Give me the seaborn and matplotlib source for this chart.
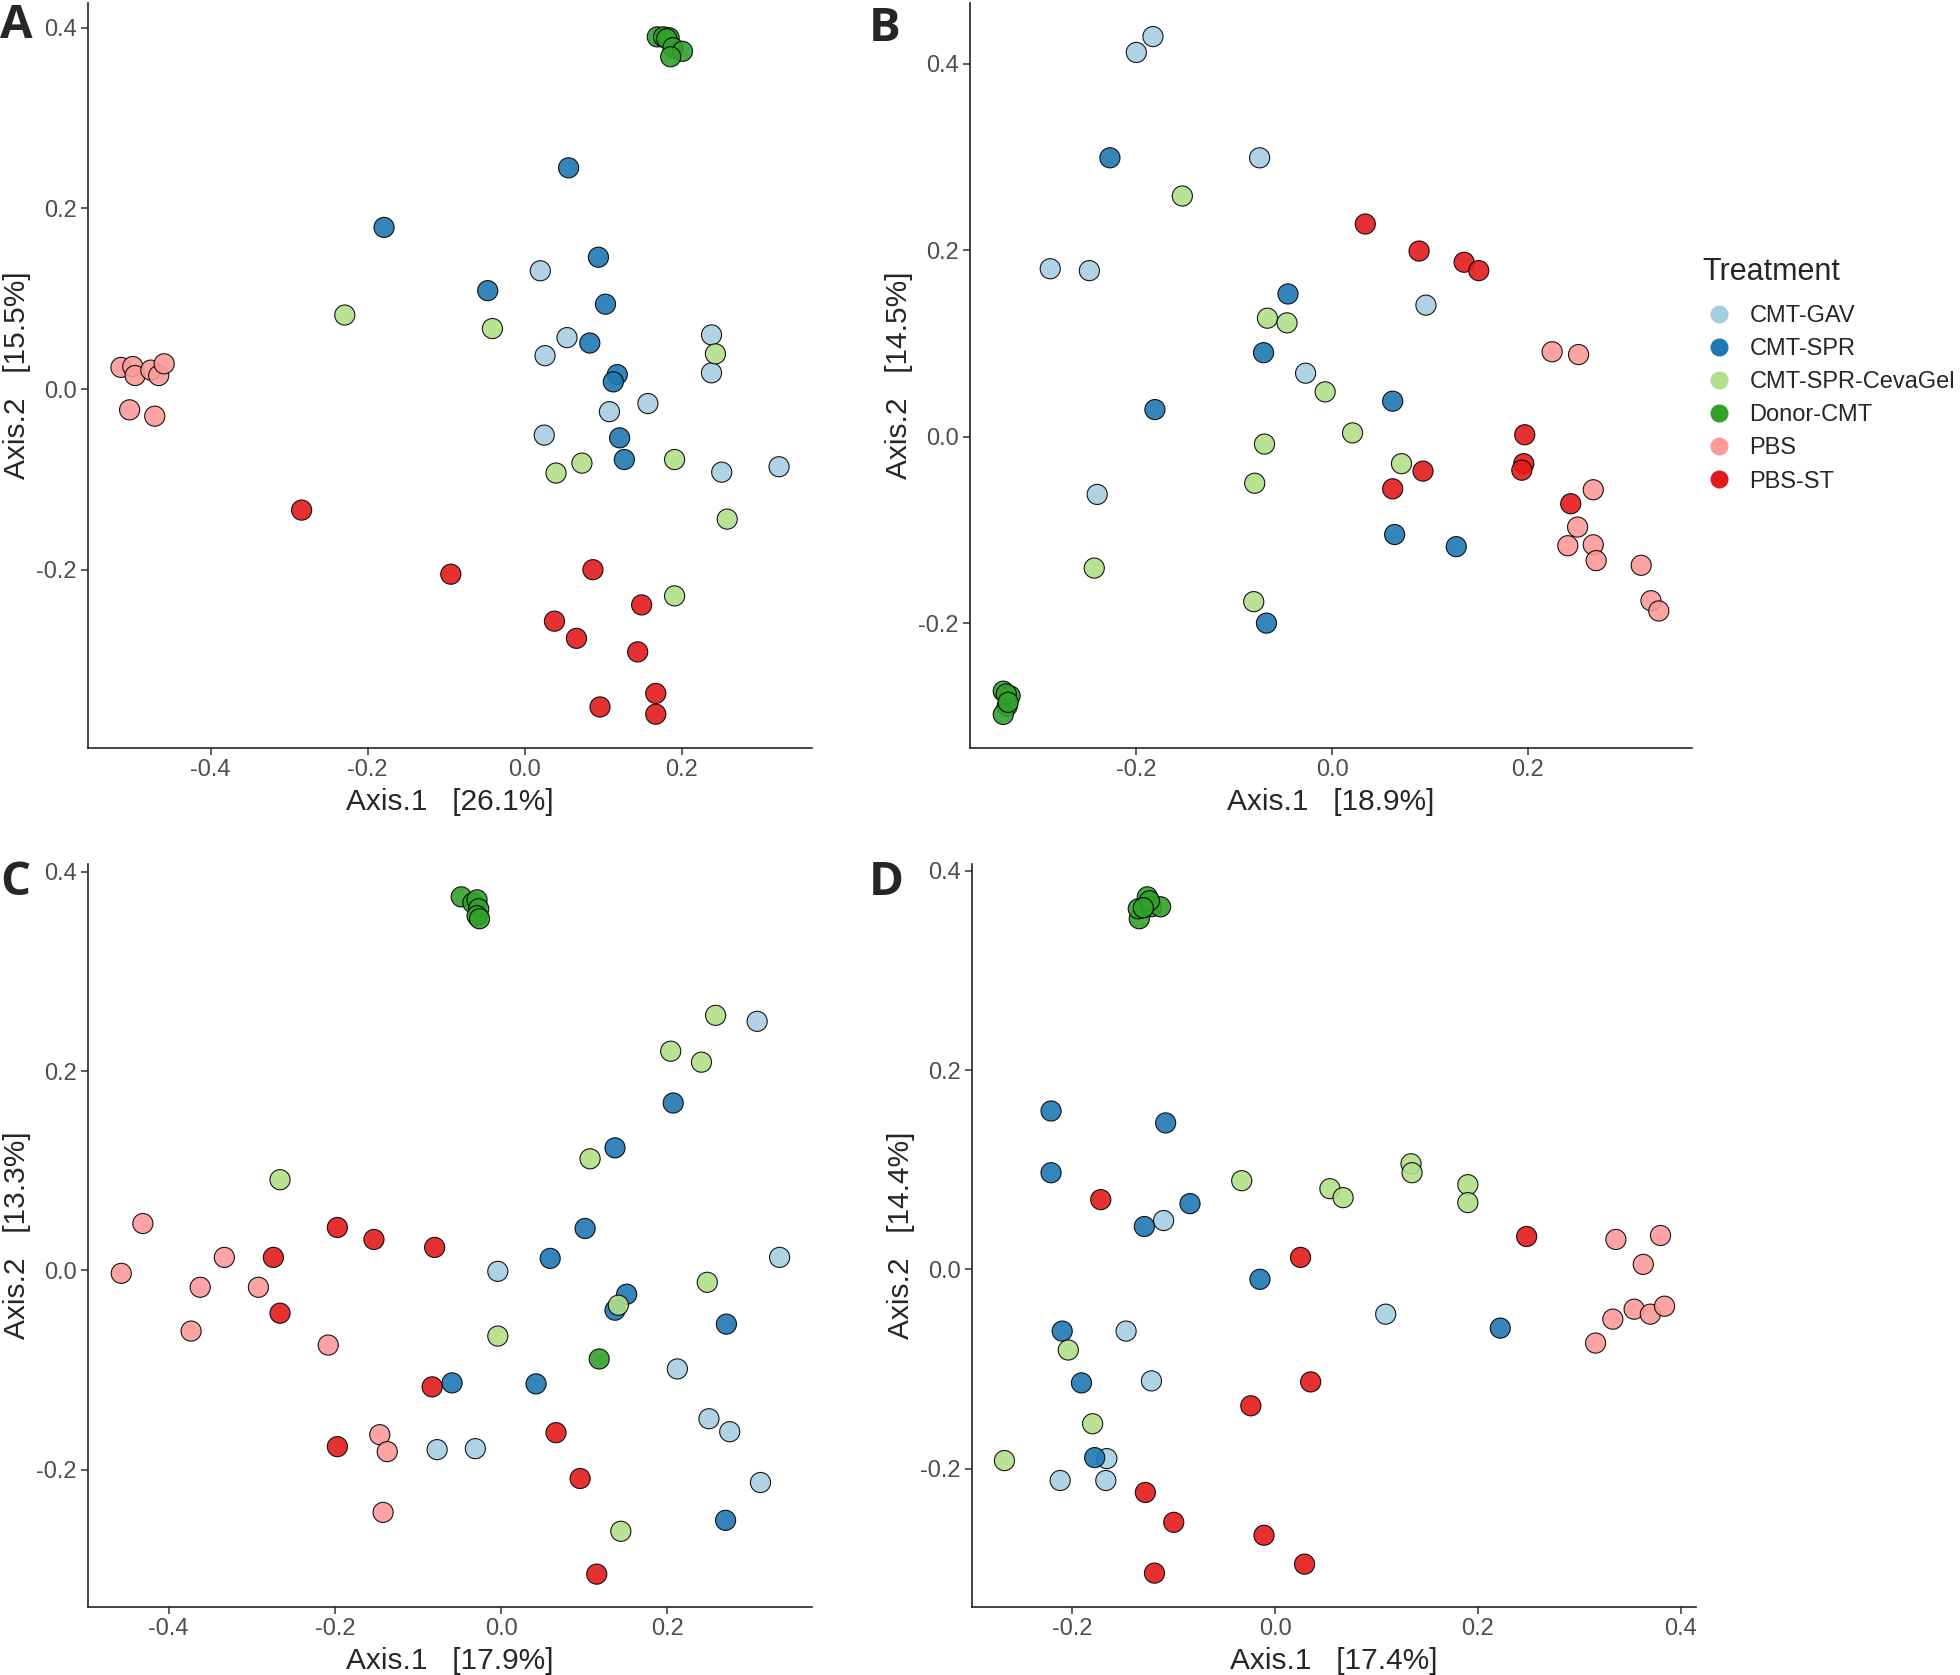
# PCoA scatter plots (4 panels) with a shared Treatment legend
import pandas as pd
import matplotlib.pyplot as plt
import seaborn as sns
from matplotlib.lines import Line2D

treatments = ["CMT-GAV", "CMT-SPR", "CMT-SPR-CevaGel", "Donor-CMT", "PBS", "PBS-ST"]
colors = ["#A6CEE3", "#1F78B4", "#B2DF8A", "#33A02C", "#FB9A99", "#E31A1C"]

# --- panel A ---
a_x = {
    "CMT-GAV": [0.020, 0.054, 0.026, 0.238, 0.238, 0.157, 0.108, 0.025, 0.251, 0.324],
    "CMT-SPR": [0.056, -0.179, 0.094, -0.047, 0.103, 0.083, 0.118, 0.113, 0.121, 0.127],
    "CMT-SPR-CevaGel": [-0.229, -0.041, 0.243, 0.040, 0.073, 0.191, 0.258, 0.191],
    "Donor-CMT": [0.169, 0.177, 0.184, 0.181, 0.189, 0.201, 0.186],
    "PBS": [-0.514, -0.499, -0.496, -0.476, -0.466, -0.459, -0.503, -0.471],
    "PBS-ST": [-0.284, -0.094, 0.087, 0.149, 0.038, 0.066, 0.144, 0.167, 0.096, 0.167],
}
a_y = {
    "CMT-GAV": [0.131, 0.057, 0.037, 0.060, 0.018, -0.016, -0.025, -0.051, -0.092, -0.086],
    "CMT-SPR": [0.245, 0.179, 0.146, 0.109, 0.094, 0.051, 0.016, 0.008, -0.054, -0.078],
    "CMT-SPR-CevaGel": [0.082, 0.067, 0.039, -0.093, -0.082, -0.078, -0.144, -0.229],
    "Donor-CMT": [0.390, 0.390, 0.389, 0.388, 0.378, 0.374, 0.368],
    "PBS": [0.024, 0.025, 0.015, 0.021, 0.015, 0.028, -0.023, -0.030],
    "PBS-ST": [-0.134, -0.205, -0.200, -0.239, -0.257, -0.276, -0.291, -0.337, -0.352, -0.360],
}

# --- panel B ---
b_x = {
    "CMT-GAV": [-0.200, -0.183, -0.288, -0.248, -0.074, 0.096, -0.027, -0.240],
    "CMT-SPR": [-0.227, -0.045, -0.070, -0.181, 0.062, 0.064, 0.127, -0.067],
    "CMT-SPR-CevaGel": [-0.153, -0.066, -0.046, -0.007, 0.021, -0.069, 0.071, -0.079, -0.243, -0.080],
    "Donor-CMT": [-0.336, -0.329, -0.332, -0.336, -0.333, -0.331],
    "PBS": [0.225, 0.252, 0.267, 0.251, 0.241, 0.267, 0.270, 0.316, 0.326, 0.334],
    "PBS-ST": [0.034, 0.089, 0.135, 0.150, 0.197, 0.196, 0.194, 0.093, 0.062, 0.244],
}
b_y = {
    "CMT-GAV": [0.412, 0.429, 0.180, 0.178, 0.299, 0.141, 0.068, -0.062],
    "CMT-SPR": [0.299, 0.153, 0.090, 0.029, 0.038, -0.105, -0.118, -0.200],
    "CMT-SPR-CevaGel": [0.258, 0.127, 0.122, 0.048, 0.004, -0.008, -0.029, -0.050, -0.141, -0.177],
    "Donor-CMT": [-0.273, -0.278, -0.289, -0.298, -0.276, -0.285],
    "PBS": [0.091, 0.088, -0.057, -0.097, -0.117, -0.116, -0.133, -0.138, -0.176, -0.187],
    "PBS-ST": [0.228, 0.199, 0.187, 0.178, 0.002, -0.029, -0.036, -0.037, -0.056, -0.072],
}

# --- panel C ---
c_x = {
    "CMT-GAV": [0.308, 0.335, -0.004, 0.212, 0.250, 0.275, -0.077, -0.031, 0.312],
    "CMT-SPR": [0.207, 0.137, 0.101, 0.059, 0.151, 0.137, 0.271, -0.059, 0.042, 0.270],
    "CMT-SPR-CevaGel": [0.258, 0.204, 0.241, 0.107, -0.266, 0.248, 0.141, -0.004, 0.144],
    "Donor-CMT": [-0.048, -0.034, -0.029, -0.027, -0.029, -0.026, 0.118],
    "PBS": [-0.431, -0.457, -0.333, -0.362, -0.292, -0.373, -0.208, -0.146, -0.137, -0.142],
    "PBS-ST": [-0.197, -0.153, -0.080, -0.274, -0.266, -0.083, -0.197, 0.066, 0.095, 0.115],
}
c_y = {
    "CMT-GAV": [0.250, 0.013, -0.001, -0.099, -0.149, -0.162, -0.180, -0.179, -0.213],
    "CMT-SPR": [0.168, 0.123, 0.042, 0.012, -0.024, -0.040, -0.054, -0.113, -0.114, -0.251],
    "CMT-SPR-CevaGel": [0.256, 0.220, 0.209, 0.112, 0.091, -0.012, -0.035, -0.066, -0.262],
    "Donor-CMT": [0.375, 0.369, 0.372, 0.363, 0.356, 0.353, -0.089],
    "PBS": [0.047, -0.003, 0.013, -0.017, -0.017, -0.061, -0.075, -0.165, -0.182, -0.243],
    "PBS-ST": [0.043, 0.031, 0.023, 0.013, -0.043, -0.117, -0.177, -0.163, -0.209, -0.305],
}

# --- panel D ---
d_x = {
    "CMT-GAV": [-0.110, 0.109, -0.147, -0.122, -0.166, -0.212, -0.167],
    "CMT-SPR": [-0.221, -0.221, -0.108, -0.084, -0.129, -0.015, -0.210, -0.191, -0.178, 0.222],
    "CMT-SPR-CevaGel": [-0.033, 0.054, 0.067, 0.134, 0.135, 0.190, 0.190, -0.204, -0.180, -0.267],
    "Donor-CMT": [-0.134, -0.135, -0.126, -0.122, -0.113, -0.124, -0.130],
    "PBS": [0.336, 0.380, 0.363, 0.333, 0.354, 0.370, 0.384, 0.316],
    "PBS-ST": [-0.172, 0.025, 0.248, 0.035, -0.024, -0.128, -0.100, -0.011, 0.029, -0.119],
}
d_y = {
    "CMT-GAV": [0.049, -0.045, -0.062, -0.112, -0.190, -0.212, -0.212],
    "CMT-SPR": [0.159, 0.097, 0.147, 0.066, 0.043, -0.010, -0.062, -0.114, -0.189, -0.059],
    "CMT-SPR-CevaGel": [0.089, 0.081, 0.072, 0.106, 0.097, 0.085, 0.067, -0.081, -0.155, -0.192],
    "Donor-CMT": [0.352, 0.362, 0.374, 0.364, 0.364, 0.370, 0.363],
    "PBS": [0.030, 0.034, 0.005, -0.050, -0.040, -0.045, -0.037, -0.074],
    "PBS-ST": [0.070, 0.012, 0.033, -0.113, -0.137, -0.224, -0.254, -0.267, -0.296, -0.305],
}

# variance explained per axis
pct1 = {"A": "26.1%", "B": "18.9%", "C": "17.9%", "D": "17.4%"}
pct2 = {"A": "15.5%", "B": "14.5%", "C": "13.3%", "D": "14.4%"}


def to_frame(xs, ys):
    rows = []
    for t in treatments:
        for x, y in zip(xs[t], ys[t]):
            rows.append({"x": x, "y": y, "Treatment": t})
    return pd.DataFrame(rows)


sns.set_style("ticks")
plt.rcParams['font.family'] = ['Liberation Sans', 'DejaVu Sans']

fig = plt.figure(figsize=(19.6, 16.75), dpi=100)

panels = [
    ("A", a_x, a_y, [0.0449, 0.5534, 0.3694, 0.4448], (-0.556, 0.366), (-0.3975, 0.4275),
     [-0.4, -0.2, 0.0, 0.2], [-0.2, 0.0, 0.2, 0.4]),
    ("B", b_x, b_y, [0.4949, 0.5534, 0.3684, 0.4448], (-0.370, 0.368), (-0.334, 0.465),
     [-0.2, 0.0, 0.2], [-0.2, 0.0, 0.2, 0.4]),
    ("C", c_x, c_y, [0.0449, 0.0406, 0.3694, 0.4436], (-0.497, 0.374), (-0.338, 0.408),
     [-0.4, -0.2, 0.0, 0.2], [-0.2, 0.0, 0.2, 0.4]),
    ("D", d_x, d_y, [0.4959, 0.0406, 0.3694, 0.4436], (-0.299, 0.415), (-0.339, 0.407),
     [-0.2, 0.0, 0.2, 0.4], [-0.2, 0.0, 0.2, 0.4]),
]

letter_pos = {"A": (0.0, 0.999), "B": (0.443, 0.997), "C": (0.0, 0.487), "D": (0.443, 0.487)}

for key, xs, ys, rect, xlim, ylim, xt, yt in panels:
    ax = fig.add_axes(rect)
    df = to_frame(xs, ys)
    sns.scatterplot(data=df, x="x", y="y", hue="Treatment", hue_order=treatments,
                    palette=colors, s=210, edgecolor="black", linewidth=0.8,
                    alpha=0.9, legend=False, ax=ax)
    ax.set_xlim(xlim)
    ax.set_ylim(ylim)
    ax.set_xticks(xt)
    ax.set_yticks(yt)
    ax.set_xticklabels(["%.1f" % v for v in xt])
    ax.set_yticklabels(["%.1f" % v for v in yt])
    ax.set_xlabel("Axis.1   [" + pct1[key] + "]", fontsize=21.5, labelpad=5)
    ax.set_ylabel("Axis.2   [" + pct2[key] + "]", fontsize=21.5, labelpad=4)
    ax.tick_params(labelsize=17, labelcolor="#4D4D4D", length=5, width=1.1,
                   color="#333333", pad=3)
    sns.despine(ax=ax)
    for side in ["left", "bottom"]:
        ax.spines[side].set_linewidth(1.2)
        ax.spines[side].set_color("#222222")
    lx, ly = letter_pos[key]
    fig.text(lx, ly, key, ha="left", va="top", fontsize=34, fontweight="bold",
             family=["Open Sans", "DejaVu Sans"])

# shared legend at the right edge
fig.text(1702 / 1960, 1 - 272 / 1675, "Treatment", ha="left", va="center", fontsize=22)
handles = [Line2D([], [], marker="o", linestyle="", markersize=13,
                  markerfacecolor=c, markeredgewidth=0) for c in colors]
fig.legend(handles, treatments, loc="upper left",
           bbox_to_anchor=(0.8709, 0.8179), frameon=False, fontsize=17,
           handletextpad=0.80, labelspacing=0.47, borderaxespad=0,
           borderpad=0, handlelength=1.0)

fig.savefig("out.png", dpi=100)
